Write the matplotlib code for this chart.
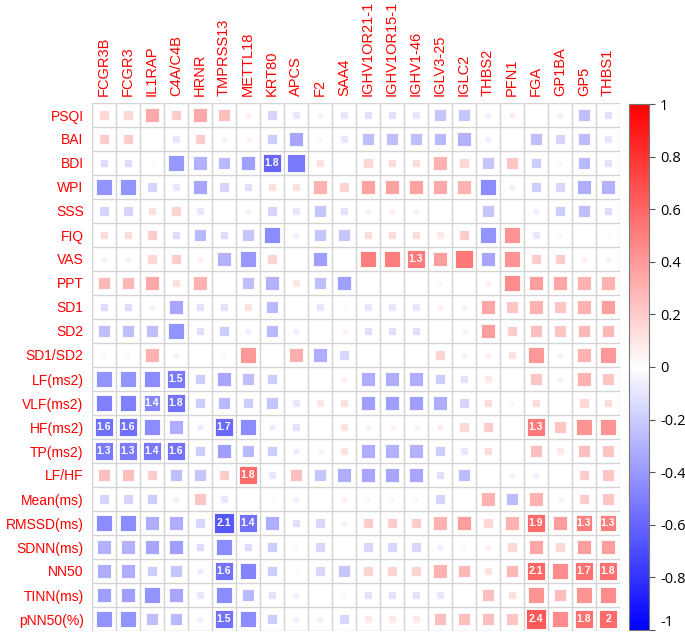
import numpy as np
import matplotlib
matplotlib.use("Agg")
import matplotlib.pyplot as plt
from matplotlib.patches import Rectangle
from matplotlib.colors import LinearSegmentedColormap, Normalize
from matplotlib.cm import ScalarMappable

plt.rcParams['font.family'] = ['Liberation Sans', 'DejaVu Sans']

proteins = ["FCGR3B", "FCGR3", "IL1RAP", "C4A/C4B", "HRNR", "TMPRSS13", "METTL18",
            "KRT80", "APCS", "F2", "SAA4", "IGHV1OR21-1", "IGHV1OR15-1", "IGHV1-46",
            "IGLV3-25", "IGLC2", "THBS2", "PFN1", "FGA", "GP1BA", "GP5", "THBS1"]
clinical = ["PSQI", "BAI", "BDI", "WPI", "SSS", "FIQ", "VAS", "PPT", "SD1", "SD2",
            "SD1/SD2", "LF(ms2)", "VLF(ms2)", "HF(ms2)", "TP(ms2)", "LF/HF", "Mean(ms)",
            "RMSSD(ms)", "SDNN(ms)", "NN50", "TINN(ms)", "pNN50(%)"]

# correlation values, one row per clinical variable
corr = [
    [0.15, 0.15, 0.33, 0.20, 0.33, 0.25, 0.06, -0.17, -0.09, 0.06, -0.10, -0.12, -0.12, -0.10, -0.22, -0.22, -0.07, 0.08, 0.00, -0.07, -0.25, -0.12],
    [0.20, 0.20, 0.00, -0.10, 0.20, 0.06, 0.05, -0.20, -0.35, -0.04, -0.09, -0.25, -0.25, -0.25, -0.28, -0.30, -0.06, -0.02, -0.25, -0.17, -0.26, -0.10],
    [-0.14, -0.14, -0.03, -0.40, -0.30, -0.28, -0.37, -0.60, -0.52, 0.12, 0.00, 0.16, 0.14, 0.14, 0.30, 0.16, -0.22, 0.22, -0.20, -0.04, -0.28, -0.11],
    [-0.42, -0.42, -0.17, -0.09, -0.35, -0.17, -0.13, 0.13, 0.13, 0.30, 0.17, 0.36, 0.36, 0.36, 0.33, 0.30, -0.45, -0.06, -0.19, -0.15, -0.32, -0.30],
    [-0.17, -0.17, 0.13, 0.17, -0.09, 0.00, -0.05, -0.17, -0.10, -0.22, -0.11, 0.07, 0.07, 0.07, 0.02, -0.01, -0.22, -0.02, -0.06, -0.20, -0.25, -0.14],
    [0.14, 0.14, 0.20, -0.14, -0.28, -0.14, -0.22, -0.45, -0.07, -0.22, -0.22, 0.14, 0.14, 0.14, 0.09, 0.20, -0.42, 0.42, -0.09, -0.04, 0.01, -0.03],
    [-0.05, -0.05, 0.15, 0.20, 0.06, -0.30, -0.40, 0.17, -0.02, -0.38, 0.00, 0.50, 0.50, 0.52, 0.38, 0.53, -0.35, 0.42, 0.20, 0.20, 0.06, 0.06],
    [0.28, 0.28, 0.34, 0.13, 0.30, 0.01, -0.25, -0.30, 0.10, -0.25, -0.37, 0.00, 0.00, 0.00, -0.04, 0.00, 0.06, 0.45, 0.38, 0.35, 0.30, 0.30],
    [-0.14, -0.14, -0.05, -0.35, -0.11, -0.11, 0.12, -0.28, 0.01, -0.10, -0.03, -0.10, -0.10, -0.10, 0.06, 0.06, 0.35, 0.22, 0.30, 0.22, 0.30, 0.37],
    [-0.25, -0.25, -0.25, -0.42, -0.13, -0.20, -0.06, -0.28, -0.06, 0.00, 0.05, -0.13, -0.13, -0.13, 0.00, 0.05, 0.38, 0.20, 0.25, 0.23, 0.28, 0.28],
    [0.04, 0.04, 0.30, 0.07, 0.02, 0.04, 0.40, 0.00, 0.32, -0.32, -0.15, 0.00, 0.00, 0.01, 0.17, 0.06, 0.07, 0.12, 0.40, 0.07, 0.30, 0.40],
    [-0.42, -0.42, -0.45, -0.52, -0.20, -0.35, -0.25, -0.20, 0.00, 0.00, 0.07, -0.32, -0.32, -0.32, -0.20, -0.11, 0.09, -0.01, 0.23, 0.07, 0.30, 0.23],
    [-0.50, -0.50, -0.47, -0.55, -0.20, -0.28, -0.20, -0.23, -0.09, 0.10, 0.13, -0.38, -0.38, -0.38, -0.32, -0.17, 0.14, -0.04, 0.14, 0.01, 0.15, 0.14],
    [-0.56, -0.56, -0.45, -0.32, -0.08, -0.58, -0.45, -0.08, -0.11, -0.02, 0.11, 0.06, 0.05, 0.05, 0.08, 0.15, 0.20, -0.02, 0.52, 0.22, 0.42, 0.42],
    [-0.52, -0.52, -0.53, -0.55, -0.20, -0.38, -0.28, -0.20, -0.08, 0.05, 0.11, -0.32, -0.30, -0.30, -0.20, -0.09, 0.14, 0.00, 0.25, 0.09, 0.25, 0.23],
    [0.25, 0.25, 0.20, -0.25, -0.22, 0.20, 0.58, -0.09, 0.25, -0.22, -0.32, -0.35, -0.35, -0.35, -0.13, -0.26, -0.02, 0.07, -0.07, -0.02, 0.20, 0.22],
    [-0.17, -0.17, -0.20, -0.07, 0.22, -0.09, -0.01, 0.03, -0.07, 0.00, 0.06, -0.04, -0.04, -0.04, -0.17, -0.01, 0.30, -0.26, 0.30, 0.05, 0.20, 0.22],
    [-0.45, -0.45, -0.32, -0.32, -0.15, -0.65, -0.55, -0.32, -0.13, -0.15, -0.05, 0.20, 0.20, 0.20, 0.30, 0.38, 0.15, 0.30, 0.58, 0.38, 0.50, 0.50],
    [-0.30, -0.30, -0.35, -0.38, -0.14, -0.45, -0.14, -0.20, 0.04, -0.15, 0.00, -0.15, -0.15, -0.15, -0.06, 0.04, 0.07, 0.15, 0.35, 0.15, 0.38, 0.38],
    [-0.32, -0.32, -0.20, -0.22, -0.08, -0.55, -0.48, -0.20, -0.03, -0.15, -0.22, 0.17, 0.17, 0.17, 0.30, 0.28, 0.11, 0.28, 0.60, 0.45, 0.55, 0.56],
    [-0.38, -0.38, -0.42, -0.35, -0.09, -0.45, -0.28, -0.11, -0.07, -0.02, 0.04, -0.11, -0.11, -0.11, -0.09, 0.00, 0.25, 0.13, 0.42, 0.26, 0.42, 0.45],
    [-0.42, -0.42, -0.25, -0.28, -0.07, -0.55, -0.45, -0.20, -0.07, -0.07, -0.15, 0.09, 0.09, 0.09, 0.25, 0.25, 0.25, 0.22, 0.65, 0.45, 0.56, 0.58],
]

# -log10(p) labels shown inside significant cells
sig_rows = [2, 6, 11, 12, 12, 13, 13, 13, 13, 14, 14, 14, 14, 15, 17, 17, 17, 17, 17, 19, 19, 19, 19, 21, 21, 21, 21]
sig_cols = [7, 13, 3, 2, 3, 0, 1, 5, 18, 0, 1, 2, 3, 6, 5, 6, 18, 20, 21, 5, 18, 20, 21, 5, 18, 20, 21]
sig_text = ["1.8", "1.3", "1.5", "1.4", "1.8", "1.6", "1.6", "1.7", "1.3", "1.3", "1.3", "1.4", "1.6",
            "1.8", "2.1", "1.4", "1.9", "1.3", "1.3", "1.6", "2.1", "1.7", "1.8", "1.5", "2.4", "1.8", "2"]

cbar_ticks = [-1, -0.8, -0.6, -0.4, -0.2, 0, 0.2, 0.4, 0.6, 0.8, 1]
cbar_labels = ["-1", "-0.8", "-0.6", "-0.4", "-0.2", "0", "0.2", "0.4", "0.6", "0.8", "1"]

cmap = LinearSegmentedColormap.from_list("bwr2", ["#0000FF", "#FFFFFF", "#FF0000"])
norm = Normalize(-1, 1)
data = np.array(corr)
nr, nc = data.shape

fig = plt.figure(figsize=(6.85, 6.35), dpi=100)
ax = fig.add_axes([92 / 685, 4 / 635, 528 / 685, 528 / 635])

for i in range(nr):
    for j in range(nc):
        v = data[i, j]
        s = np.sqrt(abs(v))
        if s > 0:
            ax.add_patch(Rectangle((j + 0.5 - s / 2, i + 0.5 - s / 2), s, s,
                                   facecolor=cmap(norm(v)), edgecolor="white",
                                   linewidth=0.6, zorder=2))

# grid
for k in range(nc + 1):
    ax.axvline(k, color="#d4d4d4", lw=1, zorder=1)
for k in range(nr + 1):
    ax.axhline(k, color="#d4d4d4", lw=1, zorder=1)

for r, c, t in zip(sig_rows, sig_cols, sig_text):
    ax.text(c + 0.5, r + 0.52, t, ha="center", va="center", color="white",
            fontsize=7.5, fontweight="bold", zorder=3)

ax.set_xlim(0, nc)
ax.set_ylim(nr, 0)
ax.set_xticks(np.arange(nc) + 0.5)
ax.set_xticklabels(proteins, rotation=90, color="#FF0000", fontsize=10.5)
ax.xaxis.tick_top()
ax.set_yticks(np.arange(nr) + 0.5)
ax.set_yticklabels(clinical, color="#FF0000", fontsize=10)
ax.tick_params(axis="x", length=0, pad=5)
ax.tick_params(axis="y", length=0, pad=6)
for sp in ax.spines.values():
    sp.set_visible(False)

# colour bar
cax = fig.add_axes([629 / 685, 5 / 635, 20 / 685, 526 / 635])
cb = fig.colorbar(ScalarMappable(norm=norm, cmap=cmap), cax=cax, ticks=cbar_ticks)
cb.ax.set_yticklabels(cbar_labels)
cb.ax.tick_params(labelsize=10.5, length=4, color="#555555", pad=4)
cb.outline.set_edgecolor("#777777")
cb.outline.set_linewidth(0.8)
for lab in cb.ax.get_yticklabels():
    lab.set_family(["Open Sans", "DejaVu Sans"])
cb.ax.get_yticklabels()[0].set_verticalalignment("bottom")

fig.savefig("out.png", dpi=100)
